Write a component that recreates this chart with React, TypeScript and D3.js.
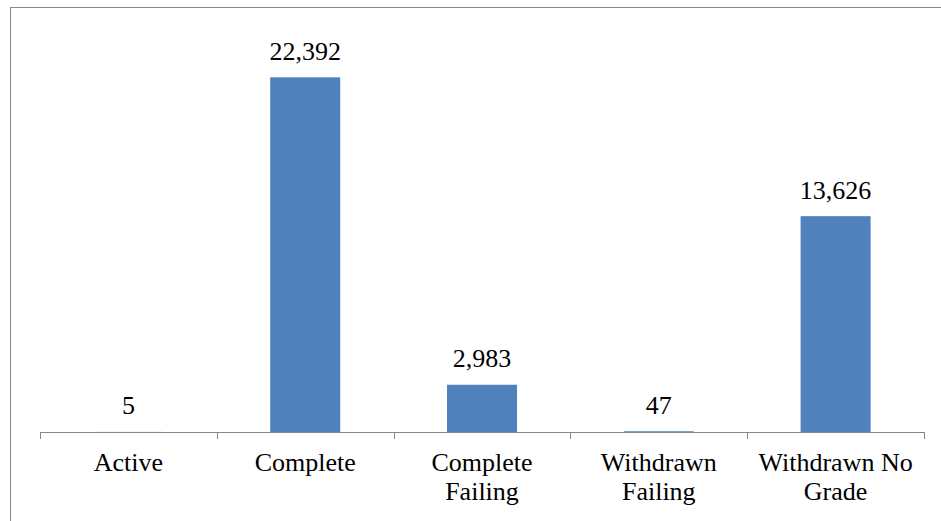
import React, { useEffect, useRef } from "react";
import * as d3 from "d3";

const categories: string[][] = [
  ["Active"],
  ["Complete"],
  ["Complete", "Failing"],
  ["Withdrawn", "Failing"],
  ["Withdrawn No", "Grade"],
];
const keys = ["Active", "Complete", "Complete Failing", "Withdrawn Failing", "Withdrawn No Grade"];
const values = [5, 22392, 2983, 47, 13626];

const W = 941;
const H = 521;
const FONT = "Liberation Serif";

export default function App() {
  const ref = useRef<SVGSVGElement>(null);
  const x = d3.scaleBand<string>().domain(keys).range([40, 924]).padding(0);
  const y = d3.scaleLinear().domain([0, 25000]).range([432, 36]);
  const bw = x.bandwidth() * 0.396;
  const fmt = d3.format(",");
  const ticks = [...keys.map((k) => x(k)!), 924];

  useEffect(() => {
    if (!ref.current) return;
    d3.select(ref.current)
      .selectAll<SVGTextElement, unknown>("text")
      .each(function () {
        this.style.setProperty("font-family", `"${FONT}", "Times New Roman", serif`, "important");
        this.style.setProperty("font-size", "26px", "important");
      });
  }, []);

  return (
    <svg ref={ref} width={W} height={H} style={{ position: "absolute", left: 0, top: 0 }}>
      <style>{`text.lbl { font-family: "${FONT}", "Times New Roman", serif !important; font-size: 26px !important; }`}</style>
      <rect x={10.5} y={7.5} width={W + 20} height={H + 20} fill="#fff" stroke="#868686" strokeWidth={1} />
      {keys.map((k, i) => {
        const cx = x(k)! + x.bandwidth() / 2;
        const top = y(values[i]);
        return (
          <g key={k}>
            <rect x={cx - bw / 2} y={top} width={bw} height={y(0) - top} fill="#4F81BD" />
            <text className="lbl" x={cx} y={top - 17.5} textAnchor="middle" fill="#000">
              {fmt(values[i])}
            </text>
            {categories[i].map((line, j) => (
              <text className="lbl" key={j} x={cx} y={471 + j * 29} textAnchor="middle" fill="#000">
                {line}
              </text>
            ))}
          </g>
        );
      })}
      <line x1={40} x2={924} y1={432.5} y2={432.5} stroke="#868686" strokeWidth={1} />
      {ticks.map((t, i) => (
        <line key={i} x1={Math.round(t) + 0.5} x2={Math.round(t) + 0.5} y1={432} y2={439} stroke="#868686" strokeWidth={1} />
      ))}
    </svg>
  );
}
